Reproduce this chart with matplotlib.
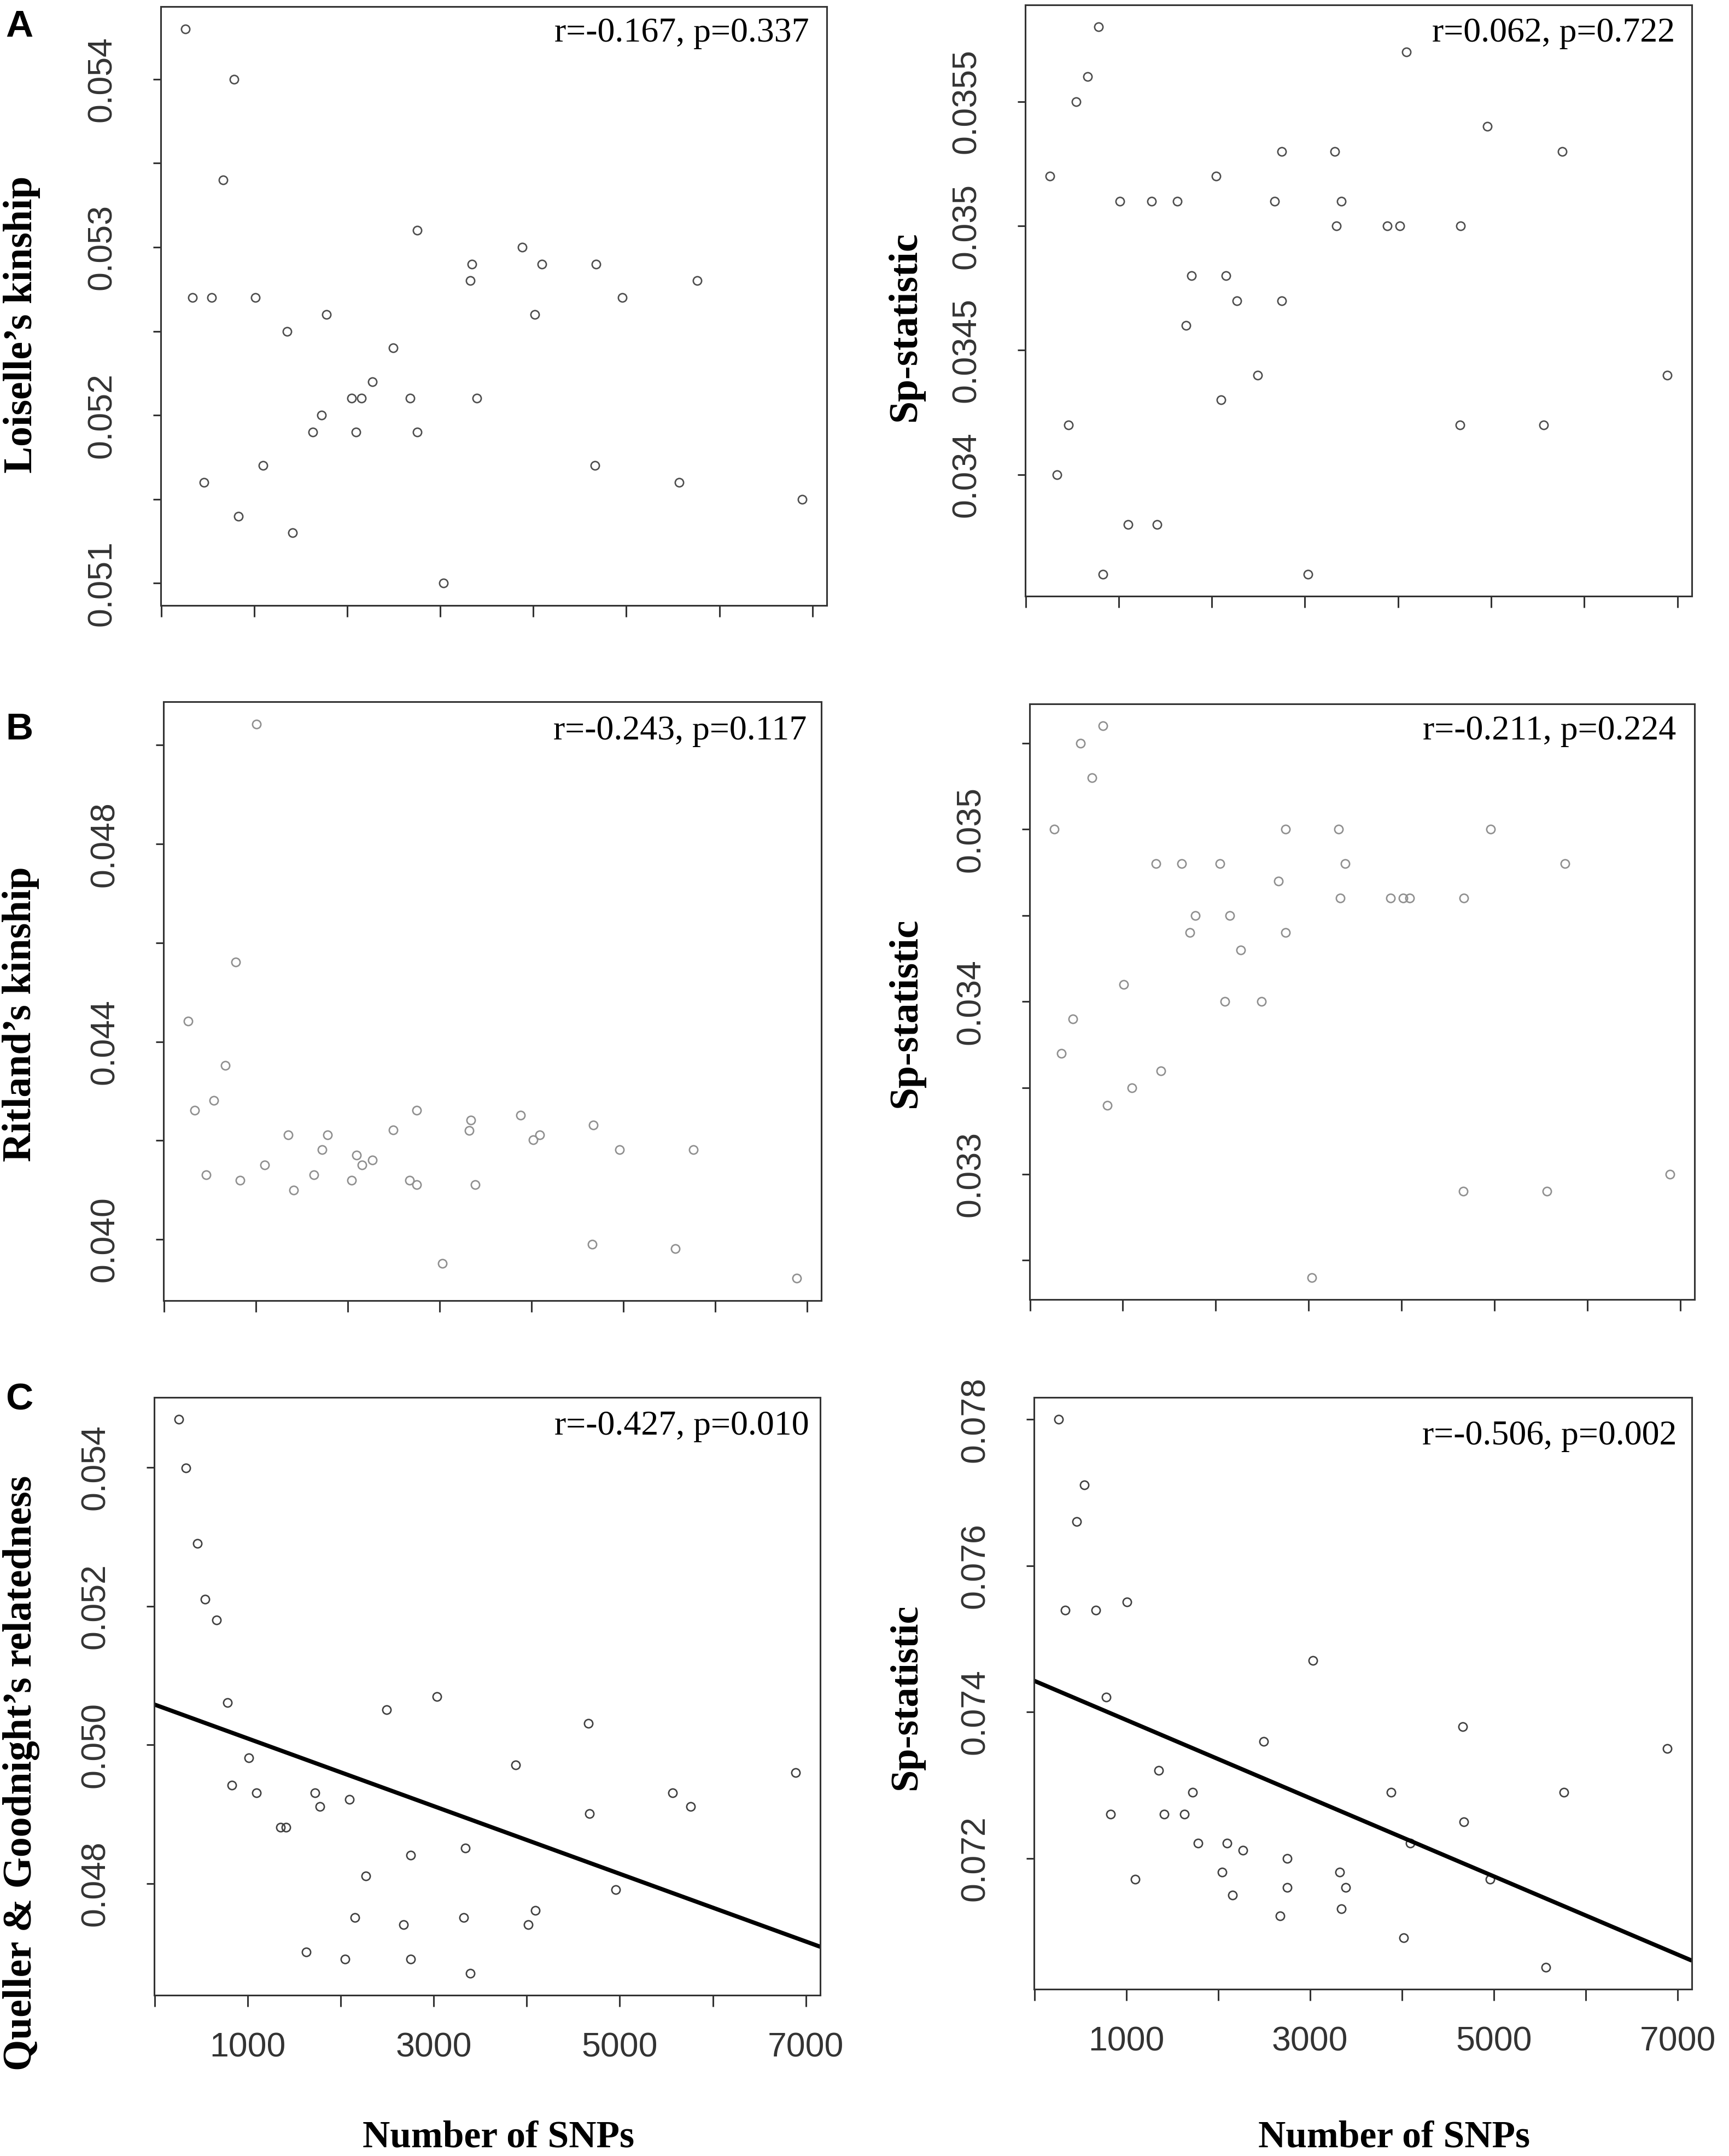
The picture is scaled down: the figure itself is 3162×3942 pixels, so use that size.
import numpy as np
import matplotlib
matplotlib.use("Agg")
import matplotlib.pyplot as plt
from matplotlib.ticker import FixedLocator, FixedFormatter

# number of SNPs per population (same x for every panel)
snps = [262, 336, 460, 542, 669, 784, 831, 1011, 1098, 1355, 1411, 1632, 1723, 1780,
        2045, 2097, 2154, 2271, 2493, 2675, 2750, 2752, 3032, 3320, 3338, 3391,
        3883, 4019, 4090, 4664, 4673, 4958, 5565, 5760, 6889]

loiselle = [0.05430, 0.05270, 0.05160, 0.05270, 0.05340, 0.05400, 0.05140, 0.05270, 0.05170,
            0.05250, 0.05130, 0.05190, 0.05200, 0.05260, 0.05210, 0.05190, 0.05210, 0.05220,
            0.05240, 0.05210, 0.05310, 0.05190, 0.05100, 0.05280, 0.05290, 0.05210, 0.05300,
            0.05260, 0.05290, 0.05170, 0.05290, 0.05270, 0.05160, 0.05280, 0.05150]
sp_loiselle = [0.0352, 0.0340, 0.0342, 0.0355, 0.0356, 0.0358, 0.0336, 0.0351, 0.0338,
               0.0351, 0.0338, 0.0351, 0.0346, 0.0348, 0.0352, 0.0343, 0.0348, 0.0347,
               0.0344, 0.0351, 0.0353, 0.0347, 0.0336, 0.0353, 0.0350, 0.0351, 0.0350,
               0.0350, 0.0357, 0.0342, 0.0350, 0.0354, 0.0342, 0.0353, 0.0344]
ritland = [0.04442, 0.04261, 0.04131, 0.04281, 0.04352, 0.04561, 0.04120, 0.05043, 0.04151,
           0.04211, 0.04100, 0.04131, 0.04181, 0.04211, 0.04120, 0.04171, 0.04151, 0.04160,
           0.04221, 0.04120, 0.04261, 0.04111, 0.03951, 0.04220, 0.04241, 0.04111, 0.04251,
           0.04201, 0.04211, 0.03990, 0.04231, 0.04181, 0.03981, 0.04181, 0.03921]
sp_ritland = [0.0350, 0.0337, 0.0339, 0.0355, 0.0353, 0.0356, 0.0334, 0.0341, 0.0335,
              0.0348, 0.0336, 0.0348, 0.0344, 0.0345, 0.0348, 0.0340, 0.0345, 0.0343,
              0.0340, 0.0347, 0.0350, 0.0344, 0.0324, 0.0350, 0.0346, 0.0348, 0.0346,
              0.0346, 0.0346, 0.0329, 0.0346, 0.0350, 0.0329, 0.0348, 0.0330]
queller = [0.05469, 0.05399, 0.05290, 0.05210, 0.05180, 0.05061, 0.04942, 0.04981, 0.04931,
           0.04881, 0.04881, 0.04701, 0.04931, 0.04911, 0.04691, 0.04921, 0.04751, 0.04811,
           0.05051, 0.04741, 0.04841, 0.04691, 0.05070, 0.04751, 0.04851, 0.04671, 0.04971,
           0.04741, 0.04761, 0.05031, 0.04901, 0.04791, 0.04931, 0.04911, 0.04960]
sp_queller = [0.07800, 0.07539, 0.07660, 0.07710, 0.07539, 0.07420, 0.07260, 0.07550, 0.07171,
              0.07320, 0.07260, 0.07260, 0.07290, 0.07221, 0.07181, 0.07221, 0.07150, 0.07211,
              0.07360, 0.07121, 0.07200, 0.07160, 0.07470, 0.07181, 0.07131, 0.07160, 0.07290,
              0.07091, 0.07221, 0.07380, 0.07250, 0.07171, 0.07051, 0.07290, 0.07350]

series = [loiselle, sp_loiselle, ritland, sp_ritland, queller, sp_queller]

stats = ["r=-0.167, p=0.337", "r=0.062, p=0.722",
         "r=-0.243, p=0.117", "r=-0.211, p=0.224",
         "r=-0.427, p=0.010", "r=-0.506, p=0.002"]
ylabels = ["Loiselle\u2019s kinship", "Sp-statistic",
           "Ritland\u2019s kinship", "Sp-statistic",
           "Queller & Goodnight\u2019s relatedness", "Sp-statistic"]
panel_letters = ["A", "B", "C"]
has_fit = [False, False, False, False, True, True]

yticks = [[0.051, 0.0515, 0.052, 0.0525, 0.053, 0.0535, 0.054],
          [0.034, 0.0345, 0.035, 0.0355],
          [0.040, 0.042, 0.044, 0.046, 0.048, 0.050],
          [0.0325, 0.033, 0.0335, 0.034, 0.0345, 0.035, 0.0355],
          [0.048, 0.050, 0.052, 0.054],
          [0.072, 0.074, 0.076, 0.078]]
yticklabels = [["0.051", "", "0.052", "", "0.053", "", "0.054"],
               ["0.034", "0.0345", "0.035", "0.0355"],
               ["0.040", "", "0.044", "", "0.048", ""],
               ["", "0.033", "", "0.034", "", "0.035", ""],
               ["0.048", "0.050", "0.052", "0.054"],
               ["0.072", "0.074", "0.076", "0.078"]]
xticks = [0, 1000, 2000, 3000, 4000, 5000, 6000, 7000]
xticklabels = ["", "1000", "", "3000", "", "5000", "", "7000"]

# layout, in pixels of the 3162 x 3942 canvas
W, H = 3162, 3942
boxes = [(294, 12, 1512, 1107), (1875, 9, 3094, 1090),
         (299, 1283, 1502, 2378), (1883, 1287, 3099, 2376),
         (282, 2555, 1500, 3648), (1891, 2555, 3094, 3637)]
stat_offsets = [(32, 64), (31, 67), (27, 69), (34, 65), (20, 68), (28, 86)]
ylabel_pos = [(40, 593), (1656, 597), (38, 1854), (1657, 1852), (39, 3242), (1658, 3103)]
ylabel_size = [53, 53, 53, 53, 53, 52]
letter_pos = [(10, 67), (10, 1352), (10, 2578)]
xlabel_pos = [(912, 3925), (2550, 3925)]
point_colors = ["#4d4d4d", "#4d4d4d", "#8f8f8f", "#8f8f8f", "#404040", "#404040"]

SERIF = "Liberation Serif"
SANS = "Liberation Sans"
PX = 0.72  # points per pixel at dpi 100


def rect(l, t, r, b):
    return [l / W, 1 - b / H, (r - l) / W, (b - t) / H]


fig = plt.figure(figsize=(W / 100, H / 100), dpi=100)
fig.patch.set_facecolor("white")

for i in range(6):
    ax = fig.add_axes(rect(*boxes[i]))
    x = np.array(snps, dtype=float)
    y = np.array(series[i])

    ax.plot(x, y, "o", mfc="none", mec=point_colors[i], ms=11, mew=1.9)

    # R style axis range: data range plus 4% on each side
    xpad = 0.04 * (x.max() - x.min())
    ypad = 0.04 * (y.max() - y.min())
    xlim = (x.min() - xpad, x.max() + xpad)
    ax.set_xlim(xlim)
    ax.set_ylim(y.min() - ypad, y.max() + ypad)

    if has_fit[i]:
        slope, icpt = np.polyfit(x, y, 1)
        xx = np.array(xlim)
        ax.plot(xx, icpt + slope * xx, color="black", lw=5.5, solid_capstyle="butt")
        ax.set_xlim(xlim)

    for s in ax.spines.values():
        s.set_linewidth(2.2)
        s.set_color("#333333")

    ax.yaxis.set_major_locator(FixedLocator(yticks[i]))
    ax.yaxis.set_major_formatter(FixedFormatter(yticklabels[i]))
    ax.xaxis.set_major_locator(FixedLocator(xticks))
    if i >= 4:
        ax.xaxis.set_major_formatter(FixedFormatter(xticklabels))
    else:
        ax.xaxis.set_major_formatter(FixedFormatter([""] * len(xticks)))

    ax.tick_params(axis="y", direction="out", length=10, width=2.2, color="#333333",
                   pad=46, labelsize=45, labelcolor="#333333", labelrotation=90)
    ax.tick_params(axis="x", direction="out", length=15, width=2.2, color="#333333",
                   pad=33, labelsize=45, labelcolor="#333333")
    for lab in ax.get_yticklabels():
        lab.set_family(SANS)
        lab.set_verticalalignment("center")
    for lab in ax.get_xticklabels():
        lab.set_family(SANS)

    dx, dy = stat_offsets[i]
    ax.annotate(stats[i], xy=(1, 1), xycoords="axes fraction",
                xytext=(-dx * PX, -dy * PX), textcoords="offset points",
                ha="right", va="baseline", fontsize=46, family=SERIF, color="black")

    cx, cy = ylabel_pos[i]
    fig.text(cx / W, 1 - cy / H, ylabels[i], rotation=90, ha="center", va="center",
             fontsize=ylabel_size[i], fontweight="bold", family=SERIF)

for letter, (lx, ly) in zip(panel_letters, letter_pos):
    fig.text(lx / W, 1 - ly / H, letter, ha="left", va="baseline",
             fontsize=50, fontweight="bold", family=SANS)

for (tx, ty) in xlabel_pos:
    fig.text(tx / W, 1 - ty / H, "Number of SNPs", ha="center", va="baseline",
             fontsize=50, fontweight="bold", family=SERIF)

fig.savefig("out.png", dpi=100)
